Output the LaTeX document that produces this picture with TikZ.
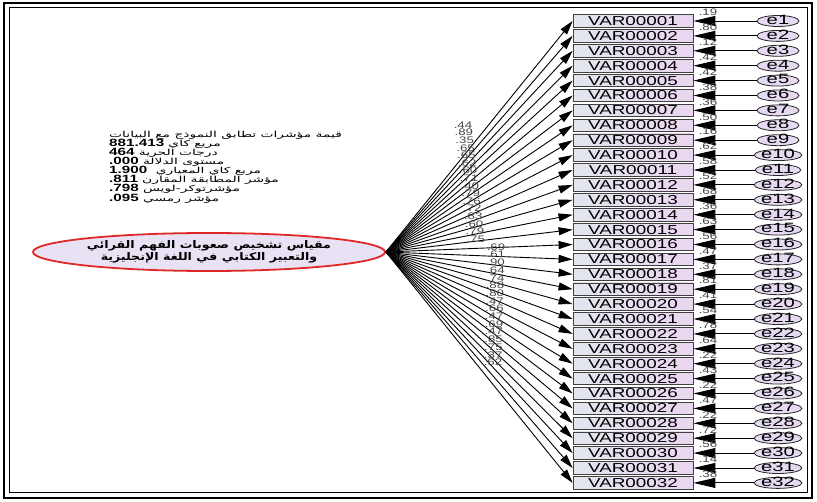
\documentclass[tikz,border=0pt]{standalone}
\usepackage{fontspec}
\setmainfont{Liberation Sans}
\newfontfamily\arabicfont[Script=Arabic]{DejaVu Sans}
\TeXXeTstate=1
\usepackage{tikz}
\usetikzlibrary{positioning, shapes, arrows.meta, calc}
\usepackage{xcolor}

\definecolor{boxleft}{RGB}{226,230,238}
\definecolor{boxright}{RGB}{234,214,240}
\definecolor{errfill}{RGB}{230,218,242}
\definecolor{latfill}{RGB}{232,226,244}
\definecolor{latline}{RGB}{225,40,40}
\definecolor{coefgray}{RGB}{70,70,70}

\newcommand{\wide}[2]{\scalebox{#1}[1]{#2}}
\newcommand{\ar}[1]{\wide{1.15}{\arabicfont\fontsize{8.3}{9.07}\selectfont\beginR #1\endR}}

\tikzset{
    varbox/.style={draw=black!75, line width=0.8pt, left color=boxleft, right color=boxright,
        minimum width=120pt, minimum height=12.5pt, inner sep=0pt, font=\fontsize{13}{13}\selectfont},
    errnode/.style={ellipse, draw=black!85, line width=0.8pt, fill=errfill, minimum width=42pt,
        minimum height=11pt, inner sep=0pt, text height=6.8pt, text depth=0pt, font=\fontsize{13.5}{13}\selectfont},
    latent/.style={ellipse, draw=latline, line width=1.8pt, fill=latfill, minimum width=352pt,
        minimum height=38pt, inner sep=0pt, align=center, font=\arabicfont\bfseries\fontsize{10.5}{11.5}\selectfont},
    coef/.style={text=coefgray, inner sep=0pt, font=\fontsize{9.5}{9.5}\selectfont},
    loadarrow/.style={line width=0.9pt, -{Triangle[length=14pt, width=8pt]}},
    errarrow/.style={line width=0.9pt, -{Triangle[length=22pt, width=10pt]}}
}

\begin{document}
\begin{tikzpicture}[x=1pt, y=-1pt]
    \useasboundingbox (0,0) rectangle (817,502);

    % Frame
    \draw[line width=2.5pt] (4,3) rectangle (812,498);
    \draw[line width=1pt] (9,8) rectangle (807,493);

    % Latent variable
    \node[latent] (scale) at (209,252) {\wide{1.2}{\beginR مقياس تشخيص صعوبات الفهم القرائي\endR}\\
        \wide{1.2}{\beginR والتعبير الكتابي في اللغة الإنجليزية\endR}};

    % Fit indices
    \node[anchor=north west, inner sep=0pt, font=\fontsize{10.5}{9.07}\selectfont] (fit) at (109,131) {\wide{1.45}{%
        \begin{tabular}{@{}l@{}}
            \smash{\ar{قيمة مؤشرات تطابق النموذج مع البيانات}}\\
            \smash{\textbf{881.413} \ar{مريع كاي}}\\
            \smash{\textbf{464} \ar{درجات الحرية}}\\
            \smash{\textbf{.000} \ar{مستوى الدلالة}}\\
            \smash{\textbf{1.900}\ \ \ar{مربع كاي المعياري}}\\
            \smash{\textbf{.811} \ar{مؤشر المطابقة المقارن}}\\
            \smash{\textbf{.798} \ar{مؤشرتوكر-لويس}}\\
            \smash{\textbf{.095} \ar{مؤشر رمسي}}
        \end{tabular}}};

    % Items, errors and coefficients
    \foreach \i/\rsq/\load in {1/.19/.44, 2/.80/.89, 3/.12/.35, 4/.42/.65, 5/.42/.65, 6/.38/.62,
        7/.36/.60, 8/.50/.71, 9/.16/.40, 10/.62/.79, 11/.58/.76, 12/.52/.72, 13/.68/.83,
        14/.36/.60, 15/.63/.79, 16/.56/.75, 17/.47/.69, 18/.37/.61, 19/.81/.90, 20/.41/.64,
        21/.54/.74, 22/.78/.88, 23/.64/.80, 24/.22/.47, 25/.43/.66, 26/.22/.47, 27/.47/.69,
        28/.22/.47, 29/.72/.85, 30/.56/.75, 31/.14/.37, 32/.38/.62} {
        \pgfmathsetmacro{\yy}{21+(\i-1)*14.9}
        \pgfmathsetmacro{\lx}{\i<17 ? 463+0.85*(\i-1) : 496-0.2*(\i-17)}
        \pgfmathsetmacro{\ly}{\i<17 ? 125+7.6*(\i-1) : 247+7.7*(\i-17)}
        \node[varbox] (v\i) at (633,\yy) {\wide{1.45}{VAR\ifnum\i<10 0000\else 000\fi\i}};
        \node[errnode] (e\i) at (778,\yy) {\wide{1.5}{e\i}};
        \draw[errarrow] (e\i) -- (v\i.east);
        \draw[loadarrow] (scale.east) -- (v\i.west);
        \node[coef] (r\i) at (708,\yy-8.5) {\wide{1.4}{\rsq}};
        \node[coef] (l\i) at (\lx,\ly) {\wide{1.4}{\load}};
    }
\end{tikzpicture}
\end{document}
